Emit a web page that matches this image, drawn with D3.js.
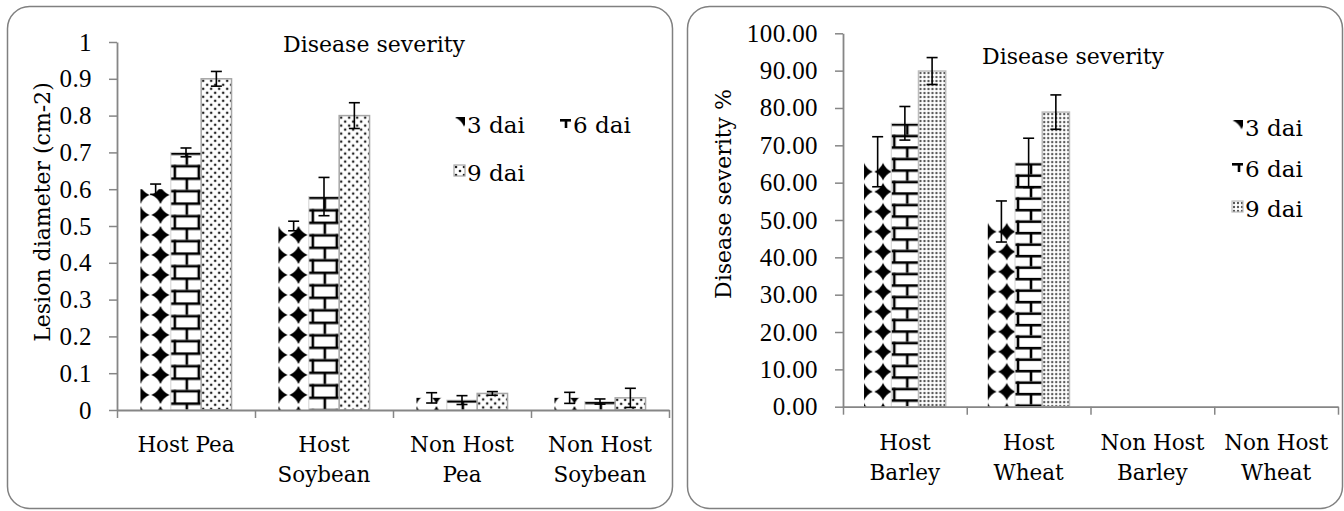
<!DOCTYPE html>
<html><head><meta charset="utf-8">
<script src="https://cdn.jsdelivr.net/npm/d3@7"></script>
<style>
body{margin:0;background:#fff}
svg{display:block}
text{font-family:"DejaVu Serif",serif;fill:#000}
</style>
</head><body><svg id="c" width="1344" height="511"></svg>
<script>
// ---------- data ----------
const seriesNames = ["3 dai", "6 dai", "9 dai"];
const chartTitle = "Disease severity";

const leftCategories = ["Host Pea", "Host Soybean", "Non Host Pea", "Non Host Soybean"];
const leftValues3 = [0.600, 0.500, 0.033, 0.033];
const leftValues6 = [0.700, 0.580, 0.027, 0.023];
const leftValues9 = [0.900, 0.800, 0.045, 0.033];
const leftErrors3 = [0.014, 0.013, 0.014, 0.015];
const leftErrors6 = [0.012, 0.052, 0.012, 0.007];
const leftErrors9 = [0.020, 0.035, 0.005, 0.026];
const leftTicks = [0, 0.1, 0.2, 0.3, 0.4, 0.5, 0.6, 0.7, 0.8, 0.9, 1];
const leftYTitle = "Lesion diameter (cm-2)";

const rightCategories = ["Host Barley", "Host Wheat", "Non Host Barley", "Non Host Wheat"];
const rightValues3 = [65.6, 49.6, 0, 0];
const rightValues6 = [75.9, 65.3, 0, 0];
const rightValues9 = [89.9, 78.9, 0, 0];
const rightErrors3 = [6.7, 5.5, 0, 0];
const rightErrors6 = [4.5, 6.6, 0, 0];
const rightErrors9 = [3.6, 4.6, 0, 0];
const rightTicks = [0, 10, 20, 30, 40, 50, 60, 70, 80, 90, 100];
const rightYTitle = "Disease severity %";

// ---------- drawing ----------
const svg = d3.select("#c");
const defs = svg.append("defs");
let pid = 0;

function diamondPath(cx, cy, r) {
  const k = r * 0.3;
  return `M${cx},${cy - r} Q${cx + k},${cy - k} ${cx + r},${cy} Q${cx + k},${cy + k} ${cx},${cy + r} Q${cx - k},${cy + k} ${cx - r},${cy} Q${cx - k},${cy - k} ${cx},${cy - r}Z`;
}
function newPattern(x, y, w, h) {
  const id = "pat" + (pid++);
  const p = defs.append("pattern").attr("id", id).attr("patternUnits", "userSpaceOnUse")
    .attr("x", x).attr("y", y).attr("width", w).attr("height", h);
  p.append("rect").attr("width", w).attr("height", h).attr("fill", "#fff");
  return {p, url: `url(#${id})`};
}
function diamondFill(x, y, w, h, r) {
  const {p, url} = newPattern(x, y, w, h);
  [0, w].forEach(cx => p.append("path").attr("d", diamondPath(cx, h / 2, r)).attr("fill", "#000"));
  return url;
}
function brickFill(x, y, w, h, lw) {
  const {p, url} = newPattern(x, y, w, h);
  const g = p.append("g").attr("stroke", "#000").attr("stroke-width", lw).attr("fill", "none");
  g.append("line").attr("x1", 0).attr("x2", w).attr("y1", lw / 2).attr("y2", lw / 2);
  g.append("line").attr("x1", 0).attr("x2", w).attr("y1", h / 2 + lw / 2).attr("y2", h / 2 + lw / 2);
  g.append("line").attr("x1", w / 2).attr("x2", w / 2).attr("y1", 0).attr("y2", h / 2);
  g.append("line").attr("x1", 0).attr("x2", 0).attr("y1", h / 2).attr("y2", h);
  g.append("line").attr("x1", w).attr("x2", w).attr("y1", h / 2).attr("y2", h);
  return url;
}
function dotFill(x, y, w, h, pts, r, col) {
  const {p, url} = newPattern(x, y, w, h);
  pts.forEach(([cx, cy]) => p.append("circle").attr("cx", cx).attr("cy", cy).attr("r", r).attr("fill", col));
  return url;
}

const panels = [
  {
    box: [7.5, 6.5, 665, 502], plot: {x0: 117, x1: 669, yb: 410, yt: 42},
    categories: leftCategories, values: [leftValues3, leftValues6, leftValues9],
    errors: [leftErrors3, leftErrors6, leftErrors9],
    ticks: leftTicks, fmt: d3.format("~g"), yTitle: leftYTitle, yTitlePos: [50, 212],
    titlePos: [283, 52], labelY: 452,
    legend: [[454, 133], [560, 133], [454, 181]],
    diamond: {w: 20, h: 20, r: 9}, brick: {w: 24, h: 25, lw: 2.6},
    dots: {w: 8, h: 8, pts: [[2, 2], [6, 6]], r: 1.3, col: "#222"}, dotStroke: "#a6a6a6"
  },
  {
    box: [687.5, 6.5, 655, 502], plot: {x0: 843, x1: 1338, yb: 406.7, yt: 33.3},
    categories: rightCategories, values: [rightValues3, rightValues6, rightValues9],
    errors: [rightErrors3, rightErrors6, rightErrors9],
    ticks: rightTicks, fmt: d3.format(".2f"), yTitle: rightYTitle, yTitlePos: [731, 194],
    titlePos: [982, 64], labelY: 450,
    legend: [[1232, 136], [1232, 177], [1232, 217]],
    diamond: {w: 19, h: 20, r: 8.8}, brick: {w: 26, h: 23, lw: 2.6},
    dots: {w: 4, h: 4, pts: [[2, 2]], r: 1.2, col: "#555"}, dotStroke: "#bdbdbd"
  }
];

panels.forEach(P => {
  const g = svg.append("g");
  g.append("rect").attr("x", P.box[0]).attr("y", P.box[1]).attr("width", P.box[2]).attr("height", P.box[3])
    .attr("rx", 22).attr("ry", 22).attr("fill", "#fff").attr("stroke", "#808080").attr("stroke-width", 1.5);

  const yMax = P.ticks[P.ticks.length - 1];
  const y = d3.scaleLinear().domain([0, yMax]).range([P.plot.yb, P.plot.yt]);
  const x = d3.scaleBand().domain(P.categories).range([P.plot.x0, P.plot.x1]).padding(0);
  const xs = d3.scaleBand().domain(seriesNames)
    .range([x.bandwidth() * 0.17, x.bandwidth() * 0.83]).padding(0);
  const bw = xs.bandwidth();

  // bars
  P.categories.forEach((c, ci) => {
    seriesNames.forEach((s, si) => {
      const v = P.values[si][ci];
      if (v <= 0) return;
      const bx = x(c) + xs(s), by = y(v), bh = y(0) - y(v);
      let fill, stroke = "none", sw = 0;
      if (si === 0) fill = diamondFill(bx, P.plot.yb - 25, P.diamond.w, P.diamond.h, P.diamond.r);
      else if (si === 1) { fill = brickFill(bx + 16 - P.brick.w / 2, by, P.brick.w, P.brick.h, P.brick.lw); stroke = "#d0d0d0"; sw = 1; }
      else { fill = dotFill(bx, by, P.dots.w, P.dots.h, P.dots.pts, P.dots.r, P.dots.col); stroke = P.dotStroke; sw = 1.5; }
      g.append("rect").attr("x", bx).attr("y", by).attr("width", bw).attr("height", bh)
        .attr("fill", fill).attr("stroke", stroke).attr("stroke-width", sw);
    });
  });
  // error bars
  P.categories.forEach((c, ci) => {
    seriesNames.forEach((s, si) => {
      const v = P.values[si][ci], e = P.errors[si][ci];
      if (!(e > 0)) return;
      const cx = x(c) + xs(s) + bw / 2;
      const eg = g.append("g").attr("stroke", "#000").attr("stroke-width", 1.6);
      eg.append("line").attr("x1", cx).attr("x2", cx).attr("y1", y(v + e)).attr("y2", y(Math.max(0, v - e)));
      [v + e, Math.max(0, v - e)].forEach(t =>
        eg.append("line").attr("x1", cx - 5.5).attr("x2", cx + 5.5).attr("y1", y(t)).attr("y2", y(t)));
    });
  });

  // y axis
  const ya = g.append("g").attr("transform", `translate(${P.plot.x0},0)`)
    .call(d3.axisLeft(y).tickValues(P.ticks).tickFormat(P.fmt).tickSize(8).tickSizeOuter(0).tickPadding(17));
  ya.select(".domain").attr("stroke", "#868686").attr("stroke-width", 1.8);
  ya.selectAll(".tick line").attr("stroke", "#868686").attr("stroke-width", 1.5);
  ya.selectAll(".tick text").style("font-family", "'Liberation Serif', serif").style("font-size", "25px")
    .style("letter-spacing", "0.4px").attr("fill", "#000");

  // x axis (category boundaries)
  const xb = d3.scaleLinear().domain([0, P.categories.length]).range([P.plot.x0, P.plot.x1]);
  const xa = g.append("g").attr("transform", `translate(0,${P.plot.yb})`)
    .call(d3.axisBottom(xb).tickValues(d3.range(P.categories.length + 1)).tickFormat(() => "").tickSize(8).tickSizeOuter(0));
  xa.select(".domain").attr("stroke", "#868686").attr("stroke-width", 1.8);
  xa.selectAll(".tick line").attr("stroke", "#868686").attr("stroke-width", 1.5);

  // category labels (wrapped)
  P.categories.forEach(c => {
    const cx = x(c) + x.bandwidth() / 2;
    const t = g.append("text").attr("text-anchor", "middle").attr("font-size", 21.5)
      .attr("x", cx).attr("y", P.labelY);
    const words = c.split(" ");
    const maxW = x.bandwidth() - 10;
    let line = [];
    let ts = t.append("tspan").attr("x", cx).attr("dy", 0);
    words.forEach(w => {
      line.push(w);
      ts.text(line.join(" "));
      if (ts.node().getComputedTextLength() > maxW && line.length > 1) {
        line.pop(); ts.text(line.join(" "));
        line = [w];
        ts = t.append("tspan").attr("x", cx).attr("dy", 30).text(w);
      }
    });
  });

  // titles
  g.append("text").attr("x", P.titlePos[0]).attr("y", P.titlePos[1]).attr("font-size", 22).text(chartTitle);
  g.append("text").attr("transform", `translate(${P.yTitlePos[0]},${P.yTitlePos[1]}) rotate(-90)`)
    .attr("text-anchor", "middle").attr("font-size", 22).text(P.yTitle);

  // legend
  seriesNames.forEach((s, si) => {
    const [lx, ly] = P.legend[si];
    const sx = lx, sy = ly - 16, ss = 11;
    let fill, stroke = "none";
    if (si === 0) fill = diamondFill(sx - P.diamond.w / 2, sy - P.diamond.h / 2 + ss / 2 - 5, P.diamond.w, P.diamond.h, P.diamond.r);
    else if (si === 1) fill = brickFill(sx - 6, sy + 2, P.brick.w, P.brick.h, P.brick.lw);
    else { fill = dotFill(sx, sy, P.dots.w, P.dots.h, P.dots.pts, P.dots.r, P.dots.col); stroke = P.dotStroke; }
    g.append("rect").attr("x", sx).attr("y", sy).attr("width", ss).attr("height", ss)
      .attr("fill", fill).attr("stroke", stroke).attr("stroke-width", 1.2);
    g.append("text").attr("x", lx + 13).attr("y", ly).attr("font-size", 23).text(s);
  });
});
</script>
</body></html>
